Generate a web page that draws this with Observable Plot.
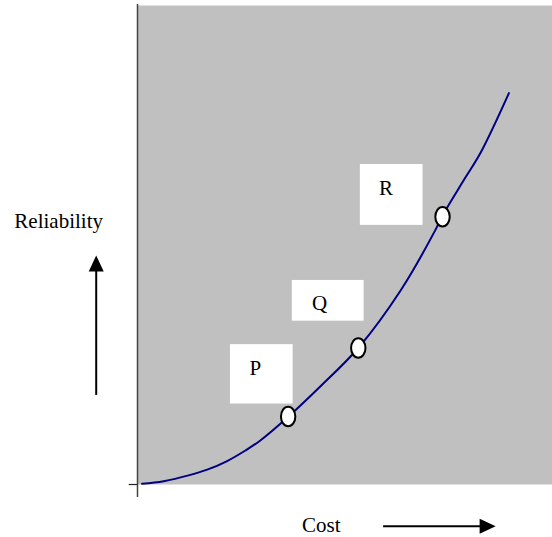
<!DOCTYPE html>
<html>
<head>
<meta charset="utf-8">
<script src="https://cdn.jsdelivr.net/npm/d3@7"></script>
<script src="https://cdn.jsdelivr.net/npm/@observablehq/plot@0.6"></script>
<style>
  html, body { margin: 0; padding: 0; background: #ffffff; }
  #chart svg { display: block; }
</style>
</head>
<body>
<div id="chart"></div>
<script>
// Curve: cost vs reliability (arbitrary units 0–100)
const curveCost        = [1.1, 6.3, 12.3, 16.8, 21.6, 26.0, 29.6, 36.4, 44.1, 53.3, 63.4, 71.7, 73.4, 78.6, 82.7, 89.5];
const curveReliability = [0.15, 0.7, 1.9, 3.1, 4.9, 7.1, 9.2, 14.2, 20.5, 28.6, 40.5, 53.0, 56.0, 63.5, 69.3, 81.7];

// Marked points
const pointNames       = ["P", "Q", "R"];
const pointCost        = [36.3, 53.2, 73.5];
const pointReliability = [14.2, 28.5, 55.9];

// Label boxes (white) and label positions
const boxCost1 = [22.4, 37.3, 53.7];
const boxCost2 = [37.5, 54.6, 68.8];
const boxRel1  = [16.8, 34.1, 54.1];
const boxRel2  = [29.2, 42.6, 66.8];
const labelCost = [28.4, 43.9, 59.9];
const labelRel  = [24.3, 37.9, 61.9];

// Axis titles and arrows
const xTitle = "Cost";
const yTitle = "Reliability";
const xTitlePos = [44.3, -8.5];
const yTitlePos = [-19.0, 55.05];
const costArrow = {y: -8.7, from: 59.3, to: 86.3};
const relArrow  = {x: -9.95, from: 18.6, to: 47.8};
const axisExtent = [-2.7, 100.2];
const tickValues = [0];

const curve = curveCost.map((c, i) => ({cost: c, rel: curveReliability[i]}));
const points = pointNames.map((n, i) => ({name: n, cost: pointCost[i], rel: pointReliability[i]}));
const boxes = pointNames.map((n, i) => ({name: n, x1: boxCost1[i], x2: boxCost2[i], y1: boxRel1[i], y2: boxRel2[i], lx: labelCost[i], ly: labelRel[i]}));

const ellipse = {
  draw(ctx) {
    const rx = 7.2, ry = 9.8, k = 0.5523;
    ctx.moveTo(rx, 0);
    ctx.bezierCurveTo(rx, k * ry, k * rx, ry, 0, ry);
    ctx.bezierCurveTo(-k * rx, ry, -rx, k * ry, -rx, 0);
    ctx.bezierCurveTo(-rx, -k * ry, -k * rx, -ry, 0, -ry);
    ctx.bezierCurveTo(k * rx, -ry, rx, -k * ry, rx, 0);
    ctx.closePath();
  }
};
const headSymbol = {
  draw(ctx) {
    ctx.moveTo(0, 0);
    ctx.lineTo(7.5, 16);
    ctx.lineTo(-7.5, 16);
    ctx.closePath();
  }
};

const font = "'Liberation Serif', 'Times New Roman', serif";
const fs = 21;

const chart = Plot.plot({
  width: 552,
  height: 537,
  marginLeft: 137,
  marginRight: 0,
  marginTop: 5,
  marginBottom: 53,
  x: {domain: [0, 100], axis: null},
  y: {domain: [0, 100], axis: null},
  style: {fontFamily: font, fontSize: fs + "px", background: "#ffffff", color: "black", overflow: "visible"},
  marks: [
    Plot.frame({fill: "#c0c0c0", stroke: "none"}),
    Plot.ruleX([0], {y1: axisExtent[0], y2: axisExtent[1], stroke: "#444", strokeWidth: 1.5}),
    Plot.ruleY(tickValues, {x1: -2, x2: 0, stroke: "#222", strokeWidth: 1.2}),
    Plot.rect(boxes, {x1: "x1", x2: "x2", y1: "y1", y2: "y2", fill: "white", inset: 0}),
    Plot.text(boxes, {x: "lx", y: "ly", text: "name", fill: "black", fontSize: fs, fontFamily: font, textAnchor: "middle", lineAnchor: "middle"}),
    Plot.line(curve, {x: "cost", y: "rel", stroke: "#000080", strokeWidth: 2, curve: "catmull-rom"}),
    Plot.dot(points, {x: "cost", y: "rel", symbol: ellipse, fill: "white", stroke: "black", strokeWidth: 2}),
    Plot.text([yTitle], {x: yTitlePos[0], y: yTitlePos[1], text: d => d, fill: "black", fontSize: fs, fontFamily: font, textAnchor: "middle", lineAnchor: "middle"}),
    Plot.text([xTitle], {x: xTitlePos[0], y: xTitlePos[1], text: d => d, fill: "black", fontSize: fs, fontFamily: font, textAnchor: "middle", lineAnchor: "middle"}),
    Plot.ruleX([relArrow.x], {y1: relArrow.from, y2: relArrow.to - 2, stroke: "black", strokeWidth: 2}),
    Plot.dot([relArrow], {x: "x", y: "to", symbol: headSymbol, fill: "black", stroke: "none"}),
    Plot.ruleY([costArrow.y], {x1: costArrow.from, x2: costArrow.to - 2, stroke: "black", strokeWidth: 2}),
    Plot.dot([costArrow], {x: "to", y: "y", symbol: headSymbol, rotate: 90, fill: "black", stroke: "none"})
  ]
});
document.getElementById("chart").appendChild(chart);
</script>
</body>
</html>
